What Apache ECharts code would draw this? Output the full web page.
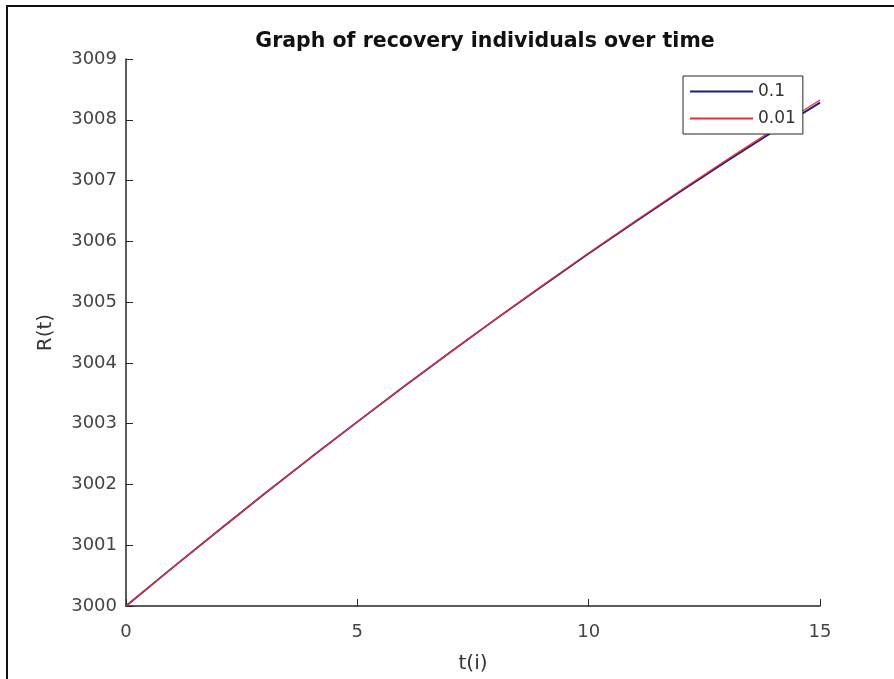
<!DOCTYPE html>
<html>
<head>
<meta charset="utf-8">
<script src="https://cdn.jsdelivr.net/npm/echarts@6/dist/echarts.min.js"></script>
<style>html,body{margin:0;padding:0;background:#fff;}#c{width:894px;height:679px;}</style>
</head>
<body>
<div id="c"></div>
<script>
// Data
const tValues = [0, 1, 2, 3, 4, 5, 6, 7, 8, 9, 10, 11, 12, 13, 14, 15];
const r_0_1  = [3000, 3000.627, 3001.243, 3001.850, 3002.446, 3003.030, 3003.606, 3004.171, 3004.724, 3005.266, 3005.798, 3006.318, 3006.828, 3007.327, 3007.812, 3008.282];
const r_0_01 = [3000, 3000.627, 3001.243, 3001.850, 3002.446, 3003.030, 3003.607, 3004.173, 3004.728, 3005.272, 3005.807, 3006.331, 3006.845, 3007.349, 3007.843, 3008.326];
const seriesNames = ['0.1', '0.01'];
const xTicks = [0, 5, 10, 15];
const yTicks = [3000, 3001, 3002, 3003, 3004, 3005, 3006, 3007, 3008, 3009];

const toPairs = (xs, ys) => xs.map((x, i) => [x, ys[i]]);
const axisColor = '#262626';
const labelColor = '#444444';
const font = 'DejaVu Sans';

const chart = echarts.init(document.getElementById('c'), null, {renderer: 'canvas'});
chart.setOption({
  animation: false,
  backgroundColor: '#ffffff',
  title: {
    text: 'Graph of recovery individuals over time',
    left: 480, top: 26, textAlign: 'center',
    textStyle: {fontFamily: font, fontWeight: 'bold', fontSize: 20.5, color: '#111111'}
  },
  grid: {left: 126, top: 59, right: 74, bottom: 73, containLabel: false},
  legend: {
    orient: 'vertical', left: 683, top: 76,
    padding: [7, 7, 7, 7],
    itemWidth: 63, itemHeight: 16, itemGap: 10,
    borderColor: axisColor, borderWidth: 1, backgroundColor: '#ffffff',
    textStyle: {fontFamily: font, fontSize: 17, color: '#333333'},
    data: seriesNames.map(n => ({name: n, icon: 'path://M0,0L100,0L100,3L0,3Z'}))
  },
  xAxis: {
    type: 'value', min: 0, max: 15, interval: 5,
    name: 't(i)', nameLocation: 'middle', nameGap: 48,
    nameTextStyle: {fontFamily: font, fontSize: 20, color: '#333333'},
    axisLine: {show: true, lineStyle: {color: axisColor, width: 1.5}},
    axisTick: {show: true, inside: true, length: 7, lineStyle: {color: axisColor}},
    axisLabel: {fontFamily: font, fontSize: 18, color: labelColor, margin: 17,
      formatter: v => xTicks.includes(v) ? String(v) : ''},
    splitLine: {show: false}
  },
  yAxis: {
    type: 'value', min: 3000, max: 3009, interval: 1,
    name: 'R(t)', nameLocation: 'middle', nameGap: 70, nameRotate: 90,
    nameTextStyle: {fontFamily: font, fontSize: 20, color: '#333333'},
    axisLine: {show: true, lineStyle: {color: axisColor, width: 1.5}},
    axisTick: {show: true, inside: true, length: 7, lineStyle: {color: axisColor}},
    axisLabel: {fontFamily: font, fontSize: 18, color: labelColor, margin: 9,
      formatter: v => yTicks.includes(v) ? String(v) : ''},
    splitLine: {show: false}
  },
  series: [
    {name: seriesNames[0], type: 'line', data: toPairs(tValues, r_0_1), showSymbol: false, symbol: 'none',
      smooth: false, lineStyle: {color: '#1c1c7c', width: 1.8}, itemStyle: {color: '#1c1c7c'}, z: 2},
    {name: seriesNames[1], type: 'line', data: toPairs(tValues, r_0_01), showSymbol: false, symbol: 'none',
      smooth: false, lineStyle: {color: '#e3313b', width: 1.3}, itemStyle: {color: '#e3313b'}, z: 3}
  ],
  graphic: [{
    type: 'rect', silent: true, z: 100,
    shape: {x: 7, y: 6, width: 1200, height: 1200},
    style: {fill: 'none', stroke: '#111111', lineWidth: 2}
  }]
});
</script>
</body>
</html>
